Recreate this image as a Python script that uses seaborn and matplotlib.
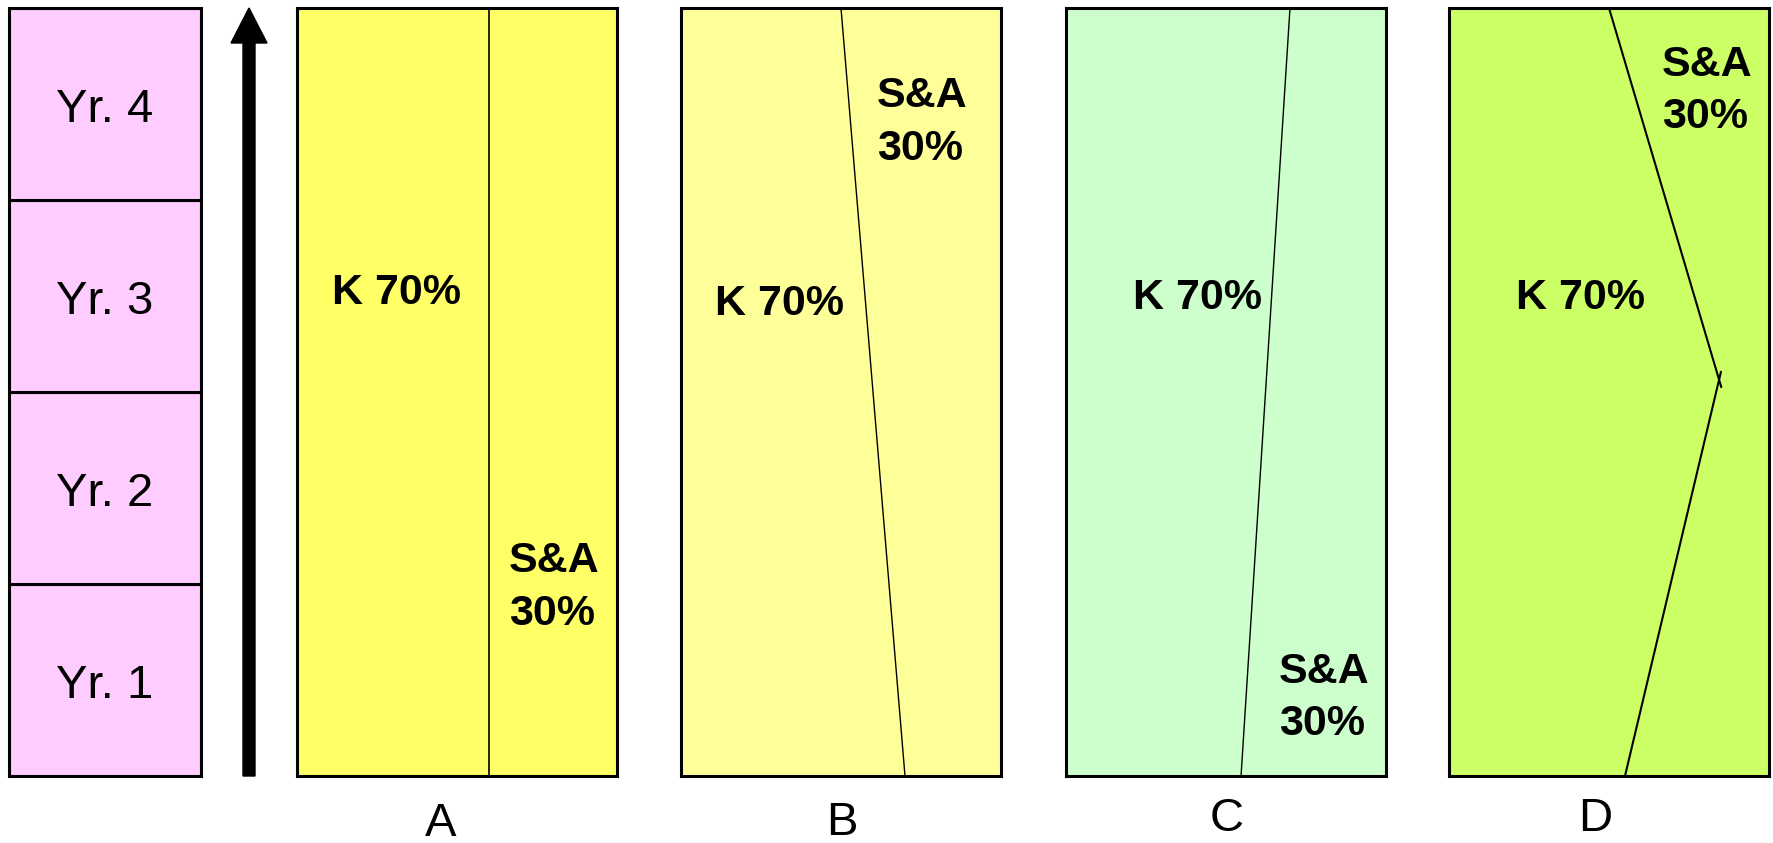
import matplotlib
matplotlib.use("Agg")
import matplotlib.pyplot as plt
import numpy as np
import seaborn as sns

# --- data -------------------------------------------------------------
YEARS = ["Yr. 1", "Yr. 2", "Yr. 3", "Yr. 4"]
PANELS = ["A", "B", "C", "D"]
K_LABEL = "K 70%"
SA_LABEL = ["S&A", "30%"]

# divider between K and S&A, as share of panel width, at depth from top (0 = Yr. 4 end, 1 = Yr. 1 end)
SPLIT_X = {
    "A": [0.60, 0.60],
    "B": [0.50, 0.70],
    "C": [0.70, 0.547],
    "D": [0.50, 0.844, 0.55],
}
SPLIT_Y = {
    "A": [0.0, 1.0],
    "B": [0.0, 1.0],
    "C": [0.0, 1.0],
    "D": [0.0, 0.484, 1.0],
}

# --- layout / style ----------------------------------------------------
W, H = 1773, 843
TOP, BOTTOM = 8, 776
PANEL_LEFT = [297, 681, 1066, 1449]
PANEL_W = 320
PANEL_COLORS = ["#FFFF66", "#FFFF99", "#CCFFCC", "#CCFF66"]
YEAR_COLOR = "#FFCCFF"
SPLIT_LW = [1.2, 1.0, 1.0, 1.5]

# text anchors in panel fractions (x, baseline y from top)
K_POS = [(0.31, 0.385), (0.309, 0.40), (0.41, 0.392), (0.4125, 0.392)]
SA_POS = [(0.6625, 0.734, 0.803), (0.6125, 0.129, 0.198),
          (0.666, 0.879, 0.947), (0.666, 0.0885, 0.156)]
LABEL_POS = [(441, 836), (842, 835), (1227, 831), (1595, 831)]

sns.set_theme(style="white")
plt.rcParams["font.family"] = ["Liberation Sans", "DejaVu Sans"]
plt.rcParams["text.color"] = "black"

fig = plt.figure(figsize=(W / 100, H / 100), dpi=100)


def px_rect(x0, x1):
    return [x0 / W, (H - BOTTOM) / H, (x1 - x0) / W, (BOTTOM - TOP) / H]


# overlay in pixel coordinates for arrow and panel letters
base = fig.add_axes([0, 0, 1, 1])
base.set_xlim(0, W)
base.set_ylim(H, 0)
base.set_axis_off()
base.arrow(249, BOTTOM, 0, -(BOTTOM - TOP), width=12, head_width=36,
           head_length=35, length_includes_head=True, color="black")
for name, (lx, ly) in zip(PANELS, LABEL_POS):
    base.text(lx, ly, name, ha="center", va="baseline", fontsize=34, color="black")

# year column
ax_y = fig.add_axes(px_rect(9, 201))
ax_y.bar(np.zeros(len(YEARS)), np.ones(len(YEARS)), bottom=np.arange(len(YEARS)),
         width=1.0, color=YEAR_COLOR, edgecolor="black", linewidth=2.2)
ax_y.set_xlim(-0.5, 0.5)
ax_y.set_ylim(0, len(YEARS))
for i, yr in enumerate(YEARS):
    ax_y.text(0, i + 0.5 - 17.5 / 192, yr, ha="center", va="baseline",
              fontsize=34, color="black")
ax_y.set(xticks=[], yticks=[])
for sp in ax_y.spines.values():
    sp.set_color("black")
    sp.set_linewidth(2.2)

# the four split panels
for i, name in enumerate(PANELS):
    ax = fig.add_axes(px_rect(PANEL_LEFT[i], PANEL_LEFT[i] + PANEL_W))
    ax.set_facecolor(PANEL_COLORS[i])
    xs = np.array(SPLIT_X[name])
    ys = np.array(SPLIT_Y[name])
    if len(xs) == 3:
        # two strokes meeting at the kink, each running slightly past it
        for a, b in [(0, 1), (2, 1)]:
            ex = xs[b] + 0.02 * (xs[b] - xs[a])
            ey = ys[b] + 0.02 * (ys[b] - ys[a])
            sns.lineplot(x=[xs[a], ex], y=[ys[a], ey], sort=False, estimator=None,
                         color="black", linewidth=SPLIT_LW[i], ax=ax)
    else:
        sns.lineplot(x=xs, y=ys, sort=False, estimator=None,
                     color="black", linewidth=SPLIT_LW[i], ax=ax)
    ax.set_xlim(0, 1)
    ax.set_ylim(1, 0)
    kx, ky = K_POS[i]
    ax.text(kx, ky, K_LABEL, ha="center", va="baseline", fontsize=31,
            fontweight="bold", color="black")
    sx, sy1, sy2 = SA_POS[i]
    ax.text(sx, sy1, SA_LABEL[0], ha="left", va="baseline", fontsize=31,
            fontweight="bold", color="black")
    ax.text(sx, sy2, SA_LABEL[1], ha="left", va="baseline", fontsize=31,
            fontweight="bold", color="black")
    ax.set(xticks=[], yticks=[], xlabel="", ylabel="")
    for sp in ax.spines.values():
        sp.set_visible(True)
        sp.set_color("black")
        sp.set_linewidth(2.2)

fig.savefig("out.png", dpi=100, facecolor="white")
